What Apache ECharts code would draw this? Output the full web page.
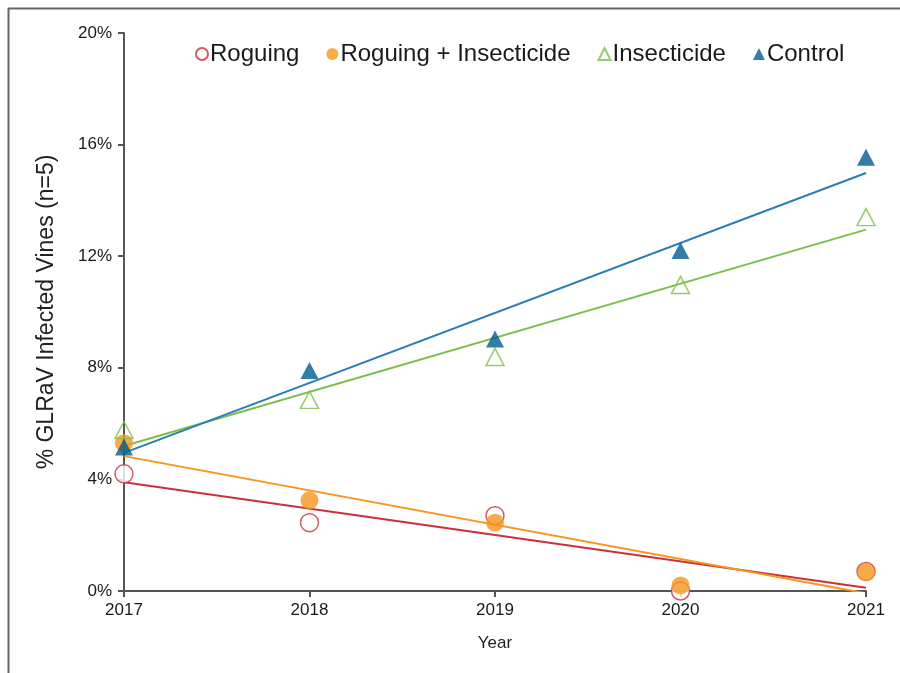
<!DOCTYPE html>
<html>
<head>
<meta charset="utf-8">
<script src="https://cdn.jsdelivr.net/npm/echarts@6/dist/echarts.min.js"></script>
<style>html,body{margin:0;padding:0;background:#fff;}#c{width:900px;height:673px;}</style>
</head>
<body>
<div id="c"></div>
<script>
const years = [2017, 2018, 2019, 2020, 2021];
const roguing = [4.2, 2.45, 2.7, 0.0, 0.7];
const roguingInsecticide = [5.3, 3.25, 2.45, 0.2, 0.68];
const insecticide = [5.77, 6.85, 8.39, 10.97, 13.4];
const control = [5.16, 7.9, 9.03, 12.2, 15.55];
const yTicks = [0, 4, 8, 12, 16, 20];

function pairs(ys) { return years.map((x, i) => [x, ys[i]]); }
function trend(ys) {
  const n = years.length;
  const mx = years.reduce((a, b) => a + b, 0) / n;
  const my = ys.reduce((a, b) => a + b, 0) / n;
  let sxy = 0, sxx = 0;
  for (let i = 0; i < n; i++) { sxy += (years[i] - mx) * (ys[i] - my); sxx += (years[i] - mx) ** 2; }
  const b = sxy / sxx, a = my - b * mx;
  const x0 = years[0], x1 = years[n - 1];
  return [[x0, a + b * x0], [x1, a + b * x1]];
}

const C = { red: '#c8323a', orange: '#f7961e', green: '#7dbf4a', blue: '#005d90', blueLine: '#2a7db5' };
const font = 'Liberation Sans, Arial, sans-serif';

const chart = echarts.init(document.getElementById('c'));
function trendSeries(ys, color) {
  return { type: 'line', data: trend(ys), showSymbol: false, symbol: 'none', silent: true,
    lineStyle: { color: color, width: 2 }, z: 2 };
}
chart.setOption({
  animation: false,
  backgroundColor: '#fff',
  graphic: [
    { type: 'line', shape: { x1: 8.5, y1: 8, x2: 8.5, y2: 673 }, style: { stroke: '#666', lineWidth: 2 } },
    { type: 'line', shape: { x1: 8, y1: 8.5, x2: 900, y2: 8.5 }, style: { stroke: '#666', lineWidth: 2 } }
  ],
  legend: {
    top: 37, left: 190, itemGap: 27, itemWidth: 12, itemHeight: 12,
    textStyle: { fontFamily: font, fontSize: 24, color: '#1a1a1a', padding: [0, 0, 0, -3] },
    data: ['Roguing', 'Roguing + Insecticide', 'Insecticide', 'Control']
  },
  grid: { left: 124, right: 34, top: 33, bottom: 82 },
  xAxis: {
    type: 'value', min: 2017, max: 2021, interval: 1,
    name: 'Year', nameLocation: 'middle', nameGap: 44,
    nameTextStyle: { fontFamily: font, fontSize: 17, color: '#222' },
    axisLine: { lineStyle: { color: '#555', width: 2 } },
    axisTick: { show: true, length: 6, lineStyle: { color: '#555', width: 2 } },
    axisLabel: { fontFamily: font, fontSize: 17, color: '#1a1a1a', margin: 11, formatter: v => String(v) },
    splitLine: { show: false }
  },
  yAxis: {
    type: 'value', min: yTicks[0], max: yTicks[yTicks.length - 1], interval: 4,
    name: '% GLRaV Infected Vines (n=5)', nameLocation: 'middle', nameGap: 66,
    nameTextStyle: { fontFamily: font, fontSize: 23, color: '#222' },
    axisLine: { show: true, lineStyle: { color: '#555', width: 2 } },
    axisTick: { show: true, length: 6, lineStyle: { color: '#555', width: 2 } },
    axisLabel: { fontFamily: font, fontSize: 17, color: '#1a1a1a', formatter: '{value}%', margin: 12 },
    splitLine: { show: false }
  },
  series: [
    trendSeries(roguing, C.red),
    trendSeries(roguingInsecticide, C.orange),
    trendSeries(insecticide, C.green),
    trendSeries(control, C.blueLine),
    { name: 'Roguing', type: 'scatter', data: pairs(roguing), symbol: 'circle', symbolSize: 18, z: 3,
      itemStyle: { color: '#fff', borderColor: C.red, borderWidth: 1.5 } },
    { name: 'Roguing + Insecticide', type: 'scatter', data: pairs(roguingInsecticide), symbol: 'circle', symbolSize: 18, z: 4,
      itemStyle: { color: C.orange } },
    { name: 'Insecticide', type: 'scatter', data: pairs(insecticide), symbol: 'triangle', symbolSize: [18, 17], z: 5,
      itemStyle: { color: 'rgba(255,255,255,0)', borderColor: C.green, borderWidth: 1.5 } },
    { name: 'Control', type: 'scatter', data: pairs(control), symbol: 'triangle', symbolSize: [18, 17], z: 6,
      itemStyle: { color: C.blue } }
  ]
});
</script>
</body>
</html>
